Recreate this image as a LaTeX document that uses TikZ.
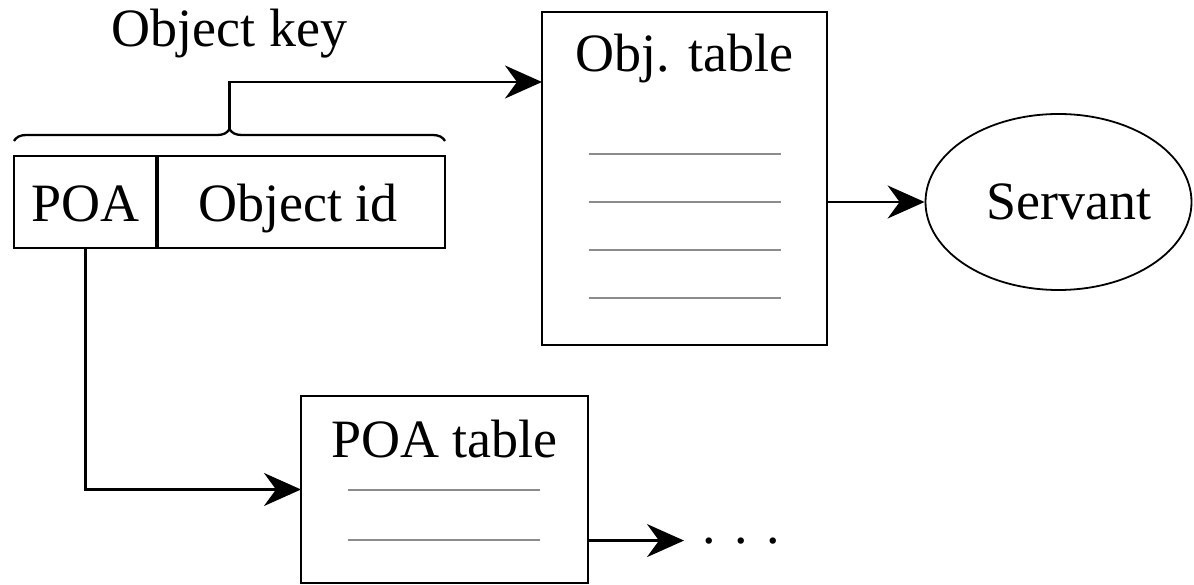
\documentclass[tikz,border=0pt]{standalone}
\usepackage{fontspec}
\setmainfont{Liberation Serif}
\usetikzlibrary{arrows.meta,decorations.pathreplacing,shapes.geometric}
\begin{document}
\begin{tikzpicture}[x=1pt,y=-1pt,
  every node/.style={font=\fontsize{54}{60}\selectfont},
  boxnode/.style={draw,line width=2.6pt,inner sep=0pt,outer sep=0pt},
  lbl/.style={anchor=base,inner sep=0pt},
  rowline/.style={line width=2.2pt,draw={rgb,255:red,140;green,140;blue,140}},
  arr/.style={line width=2.2pt,-{Stealth[length=37pt,width=33pt,inset=12pt]}}]
\useasboundingbox (0,0) rectangle (1194,585);

% key box
\node[boxnode,minimum width=143pt,minimum height=92pt] (keypoa) at (85.5,202) {};
\node[boxnode,minimum width=288pt,minimum height=92pt] (keyid) at (301,202) {};
\draw[line width=3.2pt] (keyid.north west) -- (keyid.south west);
\node[lbl] (tpoa) at (85.5,222) {POA};
\node[lbl] (tid) at (298,222) {Object id};

% brace and object key label
\coordinate (bl) at (14,141);
\coordinate (br) at (445,141);
\draw[line width=2.3pt,decorate,decoration={brace,amplitude=12pt}] (bl) -- (br);
\coordinate (tip) at (229.5,129);
\node[lbl] (okey) at (229.5,47) {Object key};

% object table
\node[boxnode,minimum width=285pt,minimum height=333pt] (objtab) at (684.5,178.5) {};
\node[lbl] (tobj) at (684.5,72) {Obj. table};
\foreach \y [count=\i] in {154,202,250,298}
  \draw[rowline] (589,\y) coordinate (oa\i) -- (781,\y) coordinate (ob\i);

% servant
\node[draw,ellipse,line width=1.8pt,inner sep=0pt,minimum width=266pt,minimum height=176pt] (servant) at (1058.5,202) {};
\node[lbl] (tserv) at (1069,220) {Servant};

% POA table
\node[boxnode,minimum width=287pt,minimum height=187pt] (poatab) at (444.5,489.5) {};
\node[lbl] (tpoatab) at (444.5,457) {POA table};
\foreach \y [count=\i] in {490,540}
  \draw[rowline] (348,\y) coordinate (pa\i) -- (540,\y) coordinate (pb\i);

% dots
\node[anchor=base west,inner sep=0pt] (dots) at (702,543) {.\hspace{18.5pt}.\hspace{18.5pt}.};

% connectors
\draw[arr] (tip) |- ([yshift=-70pt]objtab.north west);
\draw[arr] (servant.west -| objtab.east) -- (servant.west);
\draw[arr] (keypoa.south) |- (poatab.west);
\draw[arr] (dots.west -| poatab.east) -- ([xshift=-18pt]dots.west);
\end{tikzpicture}
\end{document}
